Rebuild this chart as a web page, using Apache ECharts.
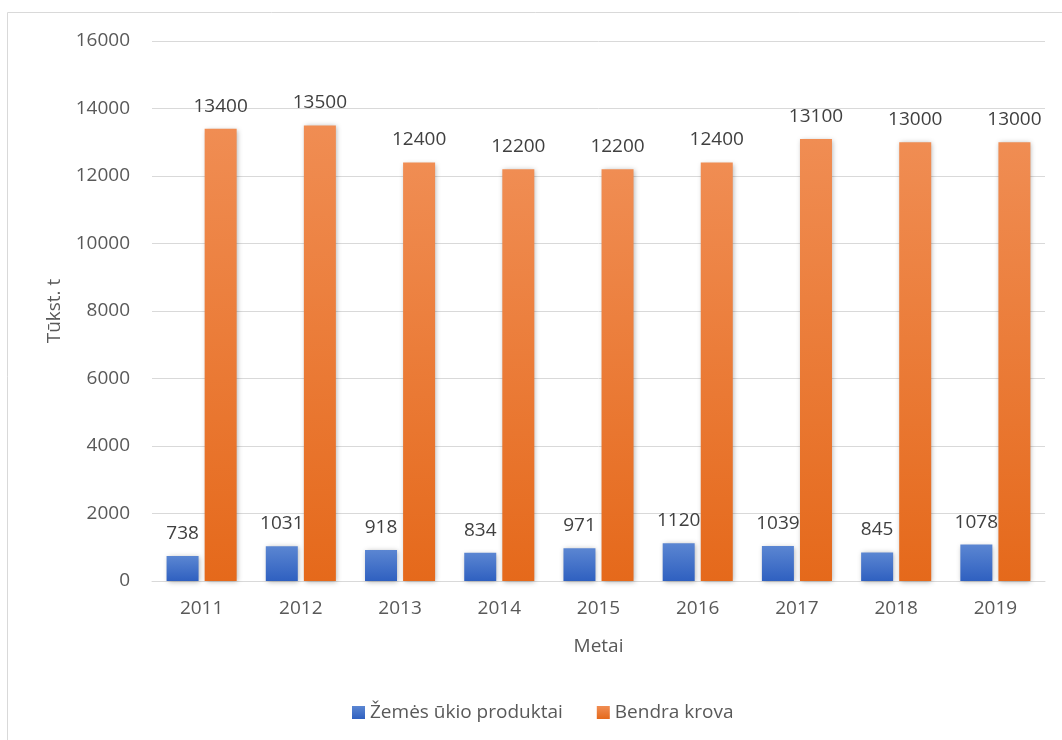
<!DOCTYPE html>
<html><head><meta charset="utf-8">
<script src="https://cdn.jsdelivr.net/npm/echarts@6/dist/echarts.min.js"></script>
<style>html,body{margin:0;padding:0;background:#fff}#c{width:1062px;height:740px}</style>
</head><body><div id="c"></div>
<script>
const years = ['2011','2012','2013','2014','2015','2016','2017','2018','2019'];
const zemesUkio = [738, 1031, 918, 834, 971, 1120, 1039, 845, 1078];
const bendraKrova = [13400, 13500, 12400, 12200, 12200, 12400, 13100, 13000, 13000];
const seriesNames = ['Žemės ūkio produktai', 'Bendra krova'];
const yTicks = {min: 0, max: 16000, interval: 2000};

const FONT = '"Open Sans", "Noto Sans", sans-serif';
const TXT = '#595959';
const FS = 19;
const chart = echarts.init(document.getElementById('c'));
const grad = (a, b) => new echarts.graphic.LinearGradient(0, 0, 0, 1, [{offset: 0, color: a}, {offset: 1, color: b}]);
chart.setOption({
  animation: false,
  textStyle: {fontFamily: FONT},
  graphic: [{type: 'rect', shape: {x: 7.5, y: 12.5, width: 1200, height: 900}, style: {fill: 'none', stroke: '#d9d9d9', lineWidth: 1}, silent: true, z: -1}],
  grid: {left: 152, right: 17, top: 41, bottom: 159},
  legend: {
    data: seriesNames, bottom: 13, left: 347, itemWidth: 13, itemHeight: 13, itemGap: 34,
    icon: 'rect', textStyle: {color: TXT, fontSize: FS, fontFamily: FONT}
  },
  xAxis: {
    type: 'category', data: years, name: 'Metai', nameLocation: 'middle', nameGap: 56,
    nameTextStyle: {color: TXT, fontSize: FS, fontFamily: FONT},
    axisLine: {lineStyle: {color: '#d9d9d9', width: 1}}, axisTick: {show: false},
    axisLabel: {color: TXT, fontSize: FS, fontFamily: FONT, margin: 18}
  },
  yAxis: {
    type: 'value', min: yTicks.min, max: yTicks.max, interval: yTicks.interval,
    name: 'Tūkst. t', nameLocation: 'middle', nameGap: 88, nameRotate: 90,
    nameTextStyle: {color: TXT, fontSize: FS, fontFamily: FONT},
    axisLine: {show: false}, axisTick: {show: false},
    axisLabel: {color: TXT, fontSize: FS, fontFamily: FONT, margin: 22, formatter: v => String(v)},
    splitLine: {lineStyle: {color: '#d9d9d9', width: 1}}
  },
  series: [
    {
      name: seriesNames[0], type: 'bar', data: zemesUkio, barWidth: 32, barGap: '19%',
      itemStyle: {color: grad('#5b86d2', '#2f60c0'), shadowColor: 'rgba(0,0,0,0.3)', shadowBlur: 5, shadowOffsetX: 1, shadowOffsetY: 1},
      label: {show: true, position: 'top', distance: 13, color: '#404040', fontSize: FS, fontFamily: FONT}
    },
    {
      name: seriesNames[1], type: 'bar', data: bendraKrova, barWidth: 32,
      itemStyle: {color: grad('#f08d53', '#e5691b'), shadowColor: 'rgba(0,0,0,0.3)', shadowBlur: 5, shadowOffsetX: 1, shadowOffsetY: 1},
      label: {show: true, position: 'top', distance: 13, color: '#404040', fontSize: FS, fontFamily: FONT}
    }
  ]
});
</script></body></html>
